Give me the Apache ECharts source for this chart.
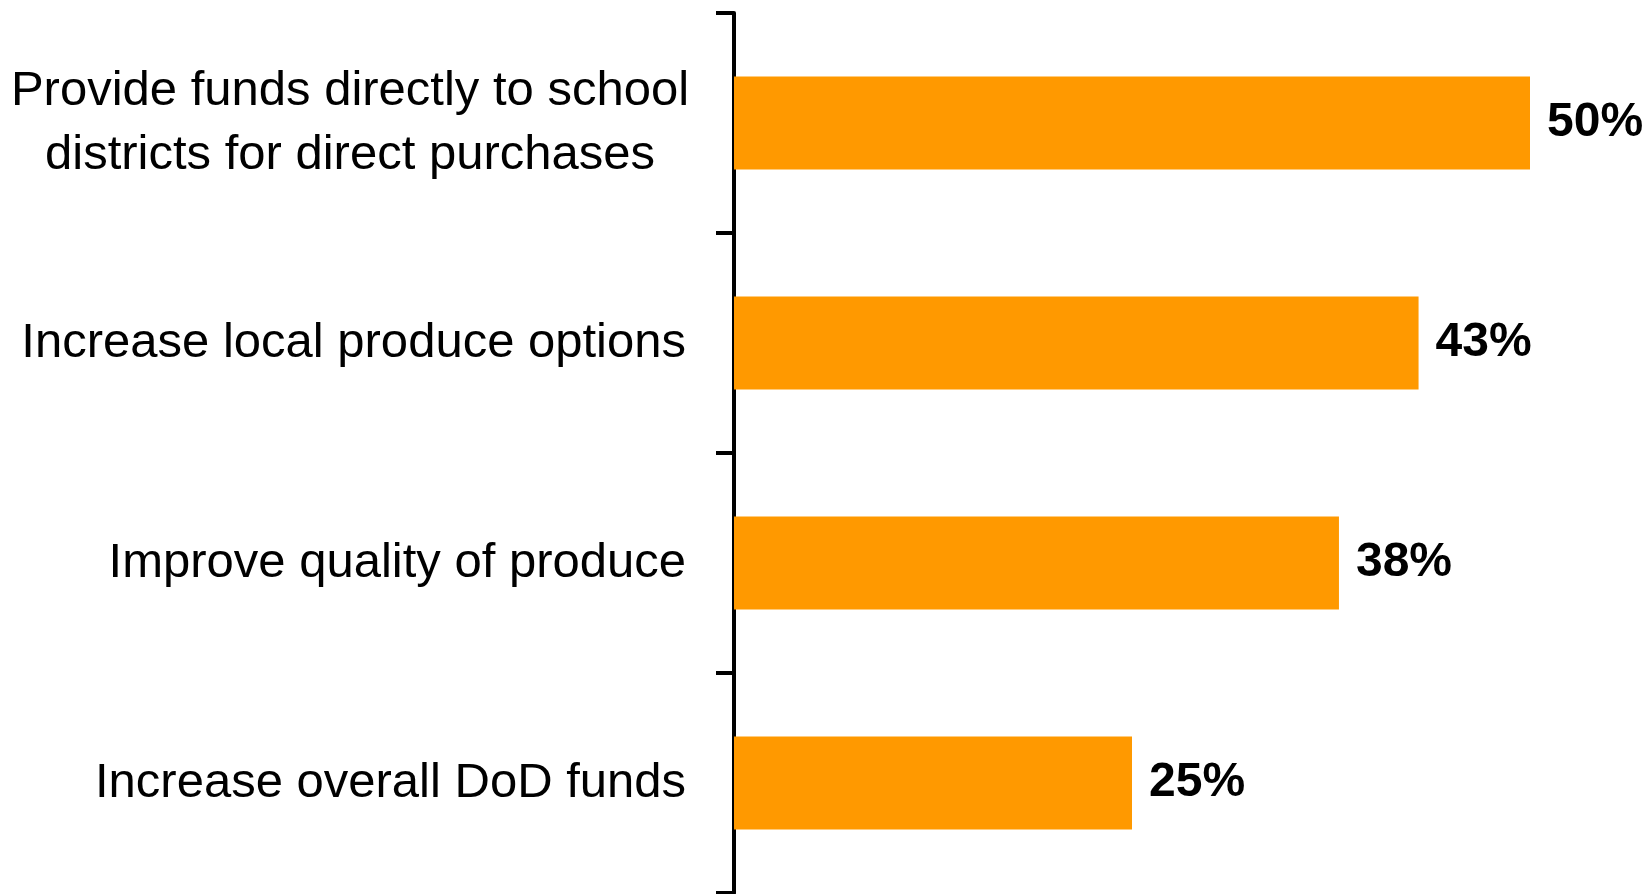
<!DOCTYPE html>
<html>
<head>
<meta charset="utf-8">
<script src="https://cdn.jsdelivr.net/npm/echarts@6/dist/echarts.min.js"></script>
<style>
html,body{margin:0;padding:0;background:#fff;}
#c{width:1650px;height:894px;}
</style>
</head>
<body>
<div id="c"></div>
<script>
const categories = [
  "Provide funds directly to school\ndistricts for direct purchases",
  "Increase local produce options",
  "Improve quality of produce",
  "Increase overall DoD funds"
];
const values = [50, 43, 38, 25];

const catData = categories.map(function (c) {
  if (c.indexOf('\n') >= 0) {
    return { value: c, textStyle: { align: 'center', padding: [0, 672, 0, 0] } };
  }
  return c;
});

const chart = echarts.init(document.getElementById('c'));
chart.setOption({
  animation: false,
  backgroundColor: '#ffffff',
  grid: { left: 734, right: 120, top: 13, bottom: 1, containLabel: false },
  xAxis: {
    type: 'value', min: 0, max: 50, show: false
  },
  yAxis: {
    type: 'category',
    data: catData,
    inverse: true,
    axisLine: { show: true, lineStyle: { color: '#000', width: 4 } },
    axisTick: { show: true, length: 18, lineStyle: { color: '#000', width: 4 } },
    axisLabel: {
      margin: 48,
      color: '#000',
      fontFamily: 'Liberation Sans, Arial, sans-serif',
      fontSize: 49,
      lineHeight: 64,
      align: 'right'
    },
    splitLine: { show: false }
  },
  series: [{
    type: 'bar',
    data: values,
    barWidth: '42.3%',
    itemStyle: { color: '#FF9900' },
    label: {
      show: true,
      position: 'right',
      distance: 17,
      formatter: '{c}%',
      color: '#000',
      fontFamily: 'Liberation Sans, Arial, sans-serif',
      fontWeight: 'bold',
      fontSize: 48
    }
  }]
});
</script>
</body>
</html>
